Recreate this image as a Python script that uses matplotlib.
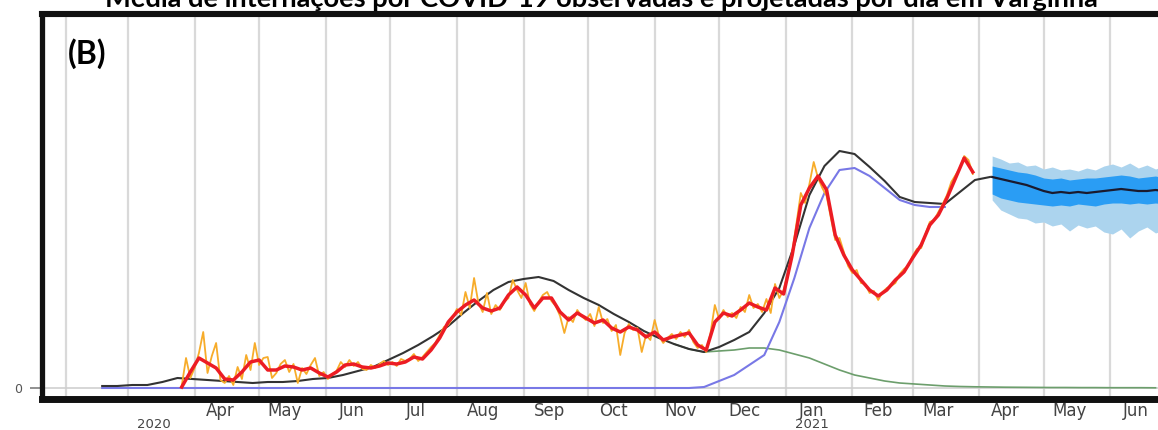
import matplotlib
matplotlib.use("Agg")
import matplotlib.pyplot as plt
import matplotlib.transforms as mtransforms
import pandas as pd

# Hospitalisations per day in Varginha: observed (daily + moving average),
# model fit, variant split and projection band.

title = "Média de internações por COVID-19 observadas e projetadas por dia em Varginha"
panel = "(B)"

# daily observed, every 2 days from 2020-03-26
orange_start = "2020-03-26"
orange = [
    0.2, 3.0, 1.0, 2.0, 3.5, 5.6, 1.5, 3.2, 4.5, 0.8,
    0.5, 1.2, 0.3, 2.1, 0.9, 3.3, 1.8, 4.5, 2.3, 3.0,
    3.1, 1.0, 1.5, 2.4, 2.8, 1.6, 2.4, 0.5, 2.0, 1.4,
    2.3, 3.0, 1.2, 1.6, 0.9, 1.4, 1.7, 2.6, 2.1, 2.8,
    2.2, 2.6, 1.9, 1.8, 2.3, 2.0, 2.4, 2.7, 2.3, 2.6,
    2.2, 2.9, 2.7, 2.9, 3.4, 2.7, 3.1, 3.6, 4.1, 4.5,
    5.3, 6.1, 6.3, 7.0, 7.9, 7.3, 9.6, 8.0, 11.0, 8.5,
    7.6, 9.5, 7.4, 8.3, 7.8, 8.6, 9.0, 10.8, 9.8, 9.0,
    10.5, 8.4, 7.7, 8.6, 9.3, 9.6, 8.7, 8.2, 7.2, 5.5,
    7.1, 6.6, 7.8, 7.2, 6.8, 7.4, 6.2, 8.1, 6.5, 6.9,
    5.7, 6.3, 3.3, 5.5, 6.4, 5.8, 6.0, 3.6, 5.3, 4.8,
    6.8, 5.2, 4.5, 5.0, 5.4, 4.9, 5.6, 5.1, 5.8, 4.6,
    4.0, 4.3, 3.6, 5.5, 8.3, 6.9, 7.8, 7.1, 7.5, 7.0,
    8.1, 7.6, 9.3, 8.0, 8.4, 7.6, 8.9, 7.5, 10.4, 9.0,
    9.8, 11.5, 13.6, 16.5, 19.5, 18.5, 20.4, 22.6, 21.0, 20.0,
    19.2, 17.0, 14.8, 15.0, 13.6, 12.2, 11.5, 11.8, 10.5, 10.4,
    9.5, 9.7, 8.8, 9.6, 10.0, 10.2, 10.5, 11.4, 11.9, 12.2,
    13.2, 13.9, 14.0, 15.4, 16.6, 16.8, 17.6, 18.4, 19.3, 20.6,
    21.3, 22.0, 23.2, 22.8, 21.4,
]

# moving average, every 4 days from 2020-03-26
red_start = "2020-03-26"
red = [
    0.1, 1.6, 3.0, 2.5, 2.0, 0.9, 0.8, 1.6, 2.6, 2.8,
    1.8, 1.8, 2.2, 2.1, 1.8, 2.0, 1.5, 1.1, 1.6, 2.3,
    2.4, 2.1, 2.0, 2.2, 2.5, 2.4, 2.6, 3.1, 2.9, 3.8,
    5.0, 6.6, 7.6, 8.3, 8.8, 8.0, 7.7, 8.0, 9.3, 10.1,
    9.3, 8.0, 9.0, 9.0, 7.6, 6.8, 7.5, 7.0, 6.5, 6.8,
    6.0, 5.6, 6.1, 5.8, 5.1, 5.6, 4.8, 5.1, 5.3, 5.5,
    4.3, 3.8, 6.6, 7.5, 7.2, 7.8, 8.5, 8.1, 7.8, 10.0,
    9.4, 13.3, 18.3, 20.0, 21.2, 19.8, 15.3, 13.3, 11.8, 10.8,
    9.8, 9.2, 9.8, 10.8, 11.6, 13.0, 14.3, 16.3, 17.3, 19.0,
    21.0, 23.0, 21.6,
]

# model fit, weekly from 2020-02-18
fit_start = "2020-02-18"
fit = [
    0.2, 0.2, 0.3, 0.3, 0.6, 1.0, 0.9, 0.8, 0.7, 0.6,
    0.5, 0.6, 0.6, 0.7, 0.9, 1.0, 1.3, 1.7, 2.1, 2.8,
    3.5, 4.3, 5.2, 6.2, 7.5, 8.7, 9.8, 10.6, 10.9, 11.1,
    10.7, 9.8, 9.0, 8.3, 7.4, 6.6, 5.7, 5.0, 4.4, 3.9,
    3.6, 4.1, 4.8, 5.6, 7.5, 10.0, 14.3, 19.3, 22.2, 23.7,
    23.4, 22.1, 20.7, 19.1, 18.6, 18.5, 18.4, 19.6, 20.8, 21.1,
]

# new variant compartment, weekly from 2020-02-18
variant = [
    0.0, 0.0, 0.0, 0.0, 0.0, 0.0, 0.0, 0.0, 0.0, 0.0,
    0.0, 0.0, 0.0, 0.0, 0.0, 0.0, 0.0, 0.0, 0.0, 0.0,
    0.0, 0.0, 0.0, 0.0, 0.0, 0.0, 0.0, 0.0, 0.0, 0.0,
    0.0, 0.0, 0.0, 0.0, 0.0, 0.0, 0.0, 0.0, 0.0, 0.0,
    0.1, 0.7, 1.3, 2.3, 3.3, 6.6, 11.0, 16.0, 19.5, 21.8,
    22.0, 21.2, 20.0, 18.8, 18.3, 18.1, 18.1,
]

# old strain compartment, weekly from 2020-11-10
old_start = "2020-11-10"
old = [
    4.4, 3.9, 3.6, 3.7, 3.8, 4.0, 4.0, 3.8, 3.4, 3.0,
    2.4, 1.8, 1.3, 1.0, 0.7, 0.5, 0.4, 0.3, 0.2, 0.15,
    0.12, 0.1, 0.08, 0.07, 0.06, 0.05, 0.05, 0.04, 0.04, 0.03,
    0.03, 0.03, 0.02,
]

# projection, every 4 days from 2021-04-07
proj_start = "2021-04-07"
proj_mid = [
    21.1, 20.9, 20.7, 20.5, 20.3, 20.0, 19.7, 19.5, 19.6, 19.5,
    19.6, 19.5, 19.6, 19.7, 19.8, 19.9, 19.8, 19.7, 19.7, 19.8,
    19.7, 19.6, 19.6,
]
proj_in_hi = [
    22.2, 22.0, 21.8, 21.6, 21.5, 21.3, 21.0, 20.9, 21.0, 20.8,
    20.9, 21.0, 21.0, 21.1, 21.2, 21.3, 21.2, 21.0, 21.1, 21.2,
    21.0, 21.0, 21.1,
]
proj_in_lo = [
    19.4, 19.0, 18.8, 18.6, 18.5, 18.4, 18.3, 18.2, 18.3, 18.2,
    18.4, 18.3, 18.2, 18.4, 18.5, 18.5, 18.4, 18.5, 18.4, 18.5,
    18.4, 18.3, 18.4,
]
proj_out_hi = [
    23.2, 22.9, 22.5, 22.6, 22.2, 22.3, 21.9, 22.1, 21.8, 21.9,
    21.7, 22.0, 21.8, 22.2, 22.4, 22.1, 22.5, 22.0, 22.3, 21.9,
    22.2, 21.8, 22.0,
]
proj_out_lo = [
    18.8, 17.8, 17.4, 17.0, 16.9, 16.5, 16.6, 16.2, 16.4, 15.7,
    16.3, 16.0, 16.2, 15.6, 15.4, 15.9, 15.0, 15.7, 16.1, 15.5,
    15.8, 16.0, 15.9,
]

month_lines = pd.date_range("2020-02-01", "2021-07-01", freq="MS")
month_labels = ["Apr", "May", "Jun", "Jul", "Aug", "Sep", "Oct", "Nov",
                "Dec", "Jan", "Feb", "Mar", "Apr", "May", "Jun"]
label_months = pd.date_range("2020-04-01", periods=len(month_labels), freq="MS")
years = [("2020", "2020-03-01"), ("2021", "2021-01-01")]


def dates(start, n, step):
    return pd.date_range(start, periods=n, freq=step)


fig = plt.figure(figsize=(11.58, 4.30), dpi=100)
ax = fig.add_axes([42 / 1158, 31 / 430, 1135 / 1158, 385 / 430])

for m in month_lines:
    ax.axvline(m, color="#d9d9d9", lw=1.6, zorder=0)
ax.axhline(0, color="#cfcfcf", lw=1.2, zorder=0)

pd_ = dates(proj_start, len(proj_mid), "4D")
ax.fill_between(pd_, proj_out_lo, proj_out_hi, color="#acd4ee", lw=0, zorder=1)
ax.fill_between(pd_, proj_in_lo, proj_in_hi, color="#2a9df4", lw=0, zorder=2)
ax.plot(pd_, proj_mid, color="#1a1a2e", lw=1.6, zorder=3)

ax.plot(dates(old_start, len(old), "7D"), old, color="#6c9e6c", lw=1.2, zorder=3)
ax.plot(dates(fit_start, len(variant), "7D"), variant, color="#7878e6", lw=1.5, zorder=4)
ax.plot(dates(fit_start, len(fit), "7D"), fit, color="#333333", lw=1.5, zorder=5)
ax.plot(dates(orange_start, len(orange), "2D"), orange, color="#f7ac2a", lw=1.3, zorder=6)
ax.plot(dates(red_start, len(red), "4D"), red, color="#ec1c24", lw=2.5, zorder=7)

ax.set_xlim(pd.Timestamp("2020-01-21"), pd.Timestamp("2021-07-02"))
ax.set_ylim(-1.1, 37.4)

for side in ["left", "top", "bottom"]:
    ax.spines[side].set_color("#111111")
ax.spines["left"].set_linewidth(3.8)
ax.spines["top"].set_linewidth(4.4)
ax.spines["bottom"].set_linewidth(5.0)
ax.spines["right"].set_visible(False)

ax.set_yticks([0])
ax.set_yticklabels(["0"])
ax.tick_params(axis="y", length=9, width=1.3, color="#888888",
               labelcolor="#555555", labelsize=9, pad=5)
ax.set_xticks(label_months + pd.Timedelta(days=12))
ax.set_xticklabels(month_labels)
ax.tick_params(axis="x", length=0, labelsize=12, labelcolor="#444444", pad=2)

trans = mtransforms.blended_transform_factory(ax.transData, fig.transFigure)
for txt, d in years:
    ax.text(pd.Timestamp(d) + pd.Timedelta(days=12), 6 / 430, txt, transform=trans,
            ha="center", va="center", fontsize=9.5, color="#444444")

fig.text(68 / 1158, 1 - 54 / 430, panel, ha="left", va="center",
         fontsize=23, fontweight="bold", family="Lato")
fig.text(0.519, 1 - 7 / 430, title, ha="center", va="baseline",
         fontsize=19.6, fontweight="bold", family="Lato")

fig.savefig("out.png", dpi=100)
